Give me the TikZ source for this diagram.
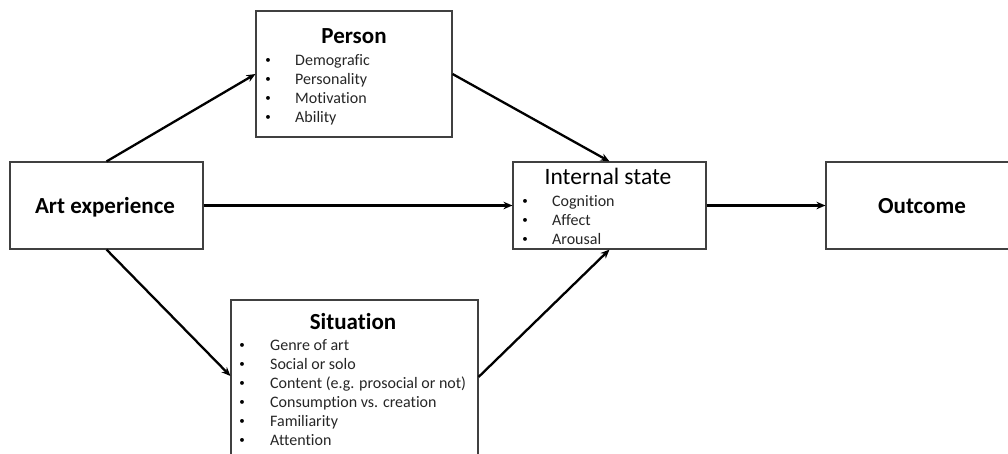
\documentclass[tikz,border=0pt]{standalone}
\usepackage{fontspec}
\setmainfont[Ligatures=NoCommon]{Carlito}
\usetikzlibrary{arrows.meta}
\begin{document}
\begin{tikzpicture}[x=1pt,y=-1pt,
  box/.style={draw=black!75, line width=1.1pt, rectangle, inner sep=0pt, fill=white},
  arr/.style={line width=2.3pt, -{Stealth[length=9pt,width=7.5pt]}},
  title/.style={font=\fontsize{23}{27}\selectfont\bfseries, anchor=base, inner sep=0pt},
  rtitle/.style={font=\fontsize{23.5}{27}\selectfont, anchor=base, inner sep=0pt},
  item/.style={font=\fontsize{16}{19}\selectfont, anchor=base west, inner sep=0pt, text=black!85},
  bul/.style={font=\fontsize{11}{19}\selectfont, anchor=base, inner sep=0pt}
]
\useasboundingbox (0,0) rectangle (1008,453);
\fill[white] (0,0) rectangle (1008,453);
\clip (0,0) rectangle (1008,453);

% boxes
\node[box, minimum width=196pt, minimum height=126pt] (person) at (354,74) {};
\node[box, minimum width=193pt, minimum height=87pt] (internal) at (609.5,205.5) {};
\node[box, minimum width=193pt, minimum height=87pt] (art) at (106.5,205.5) {};
\node[box, minimum width=192pt, minimum height=87pt] (outcome) at (922,205.5) {};
\node[box, minimum width=247pt, minimum height=162pt] (situation) at (354.5,381) {};

% titles
\node[title] (persont) at (354,43) {Person};
\node[rtitle] (internalt) at (608,184) {Internal state};
\node[title] (situationt) at (353,329) {Situation};
\node[title] (artt) at (105,213) {Art experience};
\node[title] (outcomet) at (922,213) {Outcome};

% person list
\node[bul] (pb1) at (268,63) {•}; \node[item] (p1) at (295,65) {Demografic};
\node[bul] (pb2) at (268,82) {•}; \node[item] (p2) at (295,84) {Personality};
\node[bul] (pb3) at (268,101) {•}; \node[item] (p3) at (295,103) {Motivation};
\node[bul] (pb4) at (268,120) {•}; \node[item] (p4) at (295,122) {Ability};

% internal list
\node[bul] (ib1) at (525,204.5) {•}; \node[item] (i1) at (552,206.5) {Cognition};
\node[bul] (ib2) at (525,223.5) {•}; \node[item] (i2) at (552,225.5) {Affect};
\node[bul] (ib3) at (525,242.5) {•}; \node[item] (i3) at (552,244.5) {Arousal};

% situation list
\node[bul] (sb1) at (242,348) {•}; \node[item] (s1) at (270,350) {Genre of art};
\node[bul] (sb2) at (242,367) {•}; \node[item] (s2) at (270,369) {Social or solo};
\node[bul] (sb3) at (242,386) {•}; \node[item] (s3) at (270,388) {Content (e.g. prosocial or not)};
\node[bul] (sb4) at (242,405) {•}; \node[item] (s4) at (270,407) {Consumption\ vs. creation};
\node[bul] (sb5) at (242,424) {•}; \node[item] (s5) at (270,426) {Familiarity};
\node[bul] (sb6) at (242,443) {•}; \node[item] (s6) at (270,445) {Attention};

% connectors
\draw[arr] (art.north) -- (person.west);
\draw[arr] (art.south) -- ([yshift=5pt]situation.west);
\draw[arr] (art.east) -- (internal.west);
\draw[arr] (person.east) -- (internal.north);
\draw[arr] ([yshift=4pt]situation.east) -- (internal.south);
\draw[arr] (internal.east) -- (outcome.west);
\end{tikzpicture}
\end{document}
